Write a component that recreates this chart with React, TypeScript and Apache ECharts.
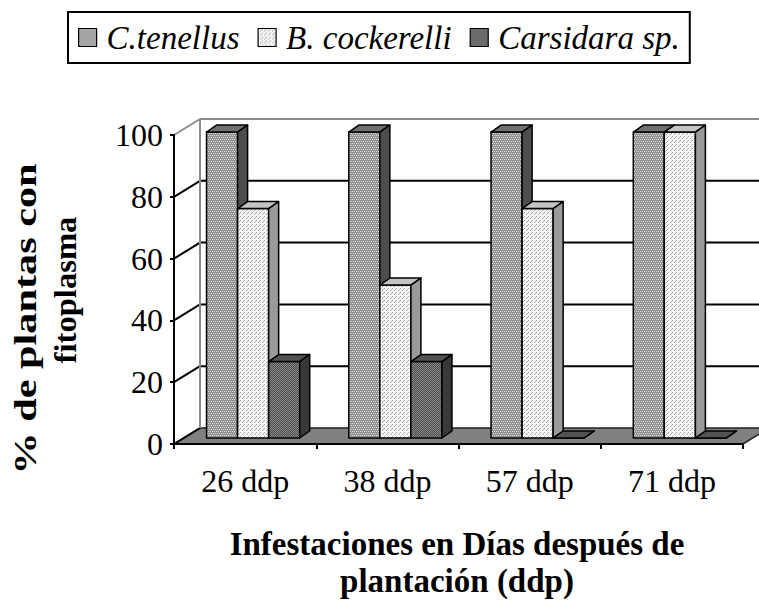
import React, { useEffect, useRef } from 'react';
import * as echarts from 'echarts';

const categories = ['26 ddp', '38 ddp', '57 ddp', '71 ddp'];
const seriesNames = ['C.tenellus', 'B. cockerelli', 'Carsidara sp.'];
const cTenellus = [100, 100, 100, 100];
const bCockerelli = [75, 50, 75, 100];
const carsidara = [25, 25, 0, 0];
const yTicks = [0, 20, 40, 60, 80, 100];
const yTitleLines = ['% de plantas con', 'fitoplasma'];
const xTitleLines = ['Infestaciones en Días después de', 'plantación (ddp)'];

const FONT = 'Liberation Serif';
const WALL_DX = 26;
const WALL_DY = -16;
const BAR_OX = 8;
const BAR_OY = -6;
const BAR_DX = 10;
const BAR_DY = -7;
const BAR_FRAC = 31 / 142;

const faces = [
  { front: '#9c9c9c', top: '#707070', side: '#4e4e4e', base: '#929292', dot: '#dcdcdc' },
  { front: '#ebebeb', top: '#c4c4c4', side: '#9a9a9a', base: '#f6f6f6', dot: '#a8a8a8' },
  { front: '#656565', top: '#525252', side: '#383838', base: '#4c4c4c', dot: '#8a8a8a' },
];

function makePattern(base: string, dot: string, kind: number): any {
  const c = document.createElement('canvas');
  c.width = 4;
  c.height = 4;
  const ctx = c.getContext('2d');
  if (!ctx) return base;
  ctx.fillStyle = base;
  ctx.fillRect(0, 0, 4, 4);
  ctx.fillStyle = dot;
  if (kind === 0) {
    ctx.fillRect(1, 1, 1, 1);
    ctx.fillRect(3, 1, 1, 1);
    ctx.fillRect(0, 3, 1, 1);
    ctx.fillRect(2, 3, 1, 1);
  } else if (kind === 1) {
    ctx.fillRect(0, 0, 1, 1);
    ctx.fillRect(2, 2, 1, 1);
    ctx.fillRect(3, 1, 1, 1);
  } else {
    ctx.fillRect(0, 0, 1, 1);
    ctx.fillRect(2, 0, 1, 1);
    ctx.fillRect(1, 1, 1, 1);
    ctx.fillRect(3, 1, 1, 1);
    ctx.fillRect(0, 2, 1, 1);
    ctx.fillRect(2, 2, 1, 1);
    ctx.fillRect(1, 3, 1, 1);
    ctx.fillRect(3, 3, 1, 1);
  }
  return { image: c.toDataURL(), repeat: 'repeat' };
}

function barRenderer(si: number, frontFill: any) {
  return (params: any, api: any) => {
    const ci = api.value(0);
    const v = api.value(1);
    const base = api.coord([ci, 0]);
    const topP = api.coord([ci, v]);
    const band = api.size([1, 0])[0];
    const w = band * BAR_FRAC;
    const x0 = base[0] - 1.5 * w + si * w + BAR_OX;
    const x1 = x0 + w;
    const yb = base[1] + BAR_OY;
    const yt = yb - (base[1] - topP[1]) * 0.99;
    const c = faces[si];
    const stroke = { stroke: '#000', lineWidth: 1.5, lineJoin: 'round' };
    return {
      type: 'group',
      children: [
        {
          type: 'polygon',
          shape: { points: [[x0, yb], [x1, yb], [x1, yt], [x0, yt]] },
          style: { fill: frontFill, ...stroke },
        },
        {
          type: 'polygon',
          shape: { points: [[x0, yt], [x1, yt], [x1 + BAR_DX, yt + BAR_DY], [x0 + BAR_DX, yt + BAR_DY]] },
          style: { fill: c.top, ...stroke },
        },
        {
          type: 'polygon',
          shape: { points: [[x1, yt], [x1 + BAR_DX, yt + BAR_DY], [x1 + BAR_DX, yb + BAR_DY], [x1, yb]] },
          style: { fill: c.side, ...stroke },
        },
      ],
    };
  };
}

function wallRenderer(params: any, api: any) {
  const cs = params.coordSys;
  const v = api.value(1);
  const y = api.coord([0, v])[1];
  const y0 = api.coord([0, 0])[1];
  const xl = cs.x;
  const xr = cs.x + cs.width;
  const isTop = v === yTicks[yTicks.length - 1];
  const col = isTop ? '#8c8c8c' : '#000';
  const children: any[] = [];
  if (v === 0) {
    children.push({
      type: 'polygon',
      shape: { points: [[xl, y0], [xl + WALL_DX, y0 + WALL_DY], [xr + WALL_DX, y0 + WALL_DY], [xr, y0]] },
      style: { fill: '#808080', stroke: '#222', lineWidth: 1.5 },
    });
  } else {
    children.push({
      type: 'line',
      shape: { x1: xl + WALL_DX, y1: y + WALL_DY, x2: xr + WALL_DX, y2: y + WALL_DY },
      style: { stroke: col, lineWidth: 2 },
    });
  }
  children.push({
    type: 'line',
    shape: { x1: xl, y1: y, x2: xl + WALL_DX, y2: y + WALL_DY },
    style: { stroke: col, lineWidth: 2 },
  });
  if (isTop) {
    children.push({
      type: 'line',
      shape: { x1: xl + WALL_DX, y1: y + WALL_DY, x2: xl + WALL_DX, y2: y0 + WALL_DY },
      style: { stroke: '#8c8c8c', lineWidth: 2 },
    });
  }
  return { type: 'group', children };
}

export default function App() {
  const ref = useRef<HTMLDivElement>(null);
  useEffect(() => {
    if (!ref.current) return;
    const chart = echarts.init(ref.current, undefined, { renderer: 'svg' });
    const seriesValues = [cTenellus, bCockerelli, carsidara];
    const fills = faces.map((f, i) => makePattern(f.base, f.dot, i));
    const option: any = {
      animation: false,
      backgroundColor: '#fff',
      textStyle: { fontFamily: FONT },
      legend: {
        data: seriesNames,
        left: 68,
        top: 12,
        orient: 'horizontal',
        icon: 'rect',
        itemWidth: 18,
        itemHeight: 18,
        itemGap: 18,
        padding: [8, 10, 8, 10],
        borderColor: '#000',
        borderWidth: 2,
        selectedMode: false,
        itemStyle: { borderColor: '#000', borderWidth: 1.2 },
        textStyle: {
          fontFamily: FONT,
          fontStyle: 'italic',
          fontSize: 33,
          color: '#000',
          padding: [0, 0, 0, 5],
          lineHeight: 35,
        },
      },
      grid: { left: 174, top: 135, right: 16, bottom: 157, containLabel: false },
      xAxis: {
        type: 'category',
        data: categories,
        z: 5,
        axisLine: { show: true, lineStyle: { color: '#000', width: 2 } },
        axisTick: { show: true, length: 5, interval: 0, lineStyle: { color: '#000', width: 2 } },
        axisLabel: { fontFamily: FONT, fontSize: 32, color: '#000', margin: 21, interval: 0 },
        splitLine: { show: false },
      },
      yAxis: {
        type: 'value',
        min: 0,
        max: 100,
        interval: 20,
        z: 5,
        axisLine: { show: true, lineStyle: { color: '#000', width: 2 } },
        axisTick: { show: true, length: 4, lineStyle: { color: '#000', width: 2 } },
        axisLabel: { fontFamily: FONT, fontSize: 32, color: '#000', margin: 11, padding: [4, 0, 0, 0] },
        splitLine: { show: false },
      },
      graphic: [
        {
          type: 'text',
          x: 457,
          y: 544,
          style: { text: xTitleLines[0], fontFamily: FONT, fontWeight: 'bold', fontSize: 33, fill: '#000', align: 'center', verticalAlign: 'middle' },
        },
        {
          type: 'text',
          x: 457,
          y: 581,
          style: { text: xTitleLines[1], fontFamily: FONT, fontWeight: 'bold', fontSize: 33, fill: '#000', align: 'center', verticalAlign: 'middle' },
        },
        {
          type: 'text',
          x: 25,
          y: 319,
          rotation: Math.PI / 2,
          scaleX: 1.32,
          style: { text: yTitleLines[0], fontFamily: FONT, fontWeight: 'bold', fontSize: 32, fill: '#000', align: 'center', verticalAlign: 'middle' },
        },
        {
          type: 'text',
          x: 65,
          y: 290,
          rotation: Math.PI / 2,
          scaleX: 1.02,
          style: { text: yTitleLines[1], fontFamily: FONT, fontWeight: 'bold', fontSize: 32, fill: '#000', align: 'center', verticalAlign: 'middle' },
        },
      ],
      series: [
        {
          type: 'custom',
          name: 'wall',
          z: 1,
          renderItem: wallRenderer,
          data: yTicks.map((t) => [0, t]),
          encode: { x: 0, y: 1 },
          silent: true,
        },
        ...seriesNames.map((name, si) => ({
          type: 'custom',
          name,
          z: 2,
          itemStyle: { color: fills[si] },
          renderItem: barRenderer(si, fills[si]),
          data: categories.map((_, i) => [i, seriesValues[si][i]]),
          encode: { x: 0, y: 1 },
        })),
      ],
    };
    chart.setOption(option);
    return () => chart.dispose();
  }, []);
  return <div ref={ref} style={{ position: 'absolute', left: 0, top: 0, width: 759, height: 601 }} />;
}
